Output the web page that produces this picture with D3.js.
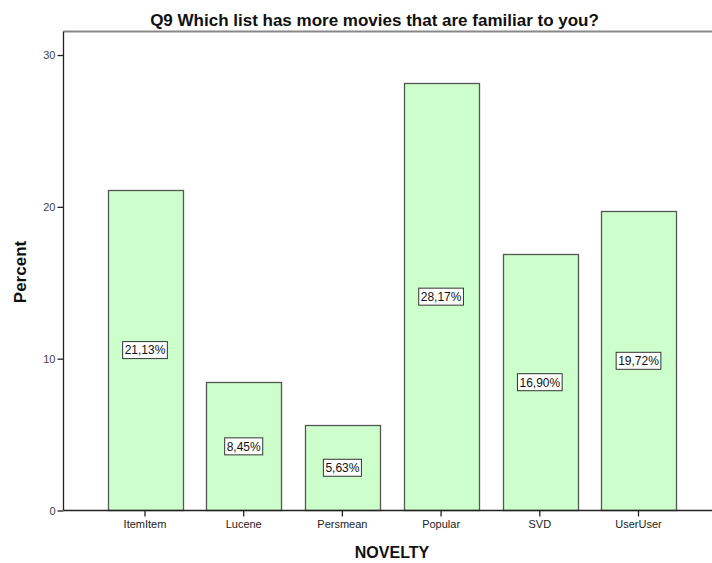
<!DOCTYPE html>
<html><head><meta charset="utf-8">
<script src="https://cdn.jsdelivr.net/npm/d3@7"></script>
<style>body{margin:0;background:#fff}svg{display:block;font-family:Arial,"Liberation Sans",sans-serif}</style>
</head><body><svg id="c" width="712" height="563"></svg>
<script>
const categories = ["ItemItem","Lucene","Persmean","Popular","SVD","UserUser"];
const values = [21.13, 8.45, 5.63, 28.17, 16.90, 19.72];
const labels = ["21,13%","8,45%","5,63%","28,17%","16,90%","19,72%"];
const yTicks = [0,10,20,30];
const title = "Q9 Which list has more movies that are familiar to you?";
const xTitle = "NOVELTY";
const yTitle = "Percent";

(function(){
const svg = d3.select("#c");
const pLeft = 63.5, pTop = 31.5, pBottom = 510.5;
const y = d3.scaleLinear().domain([0, 31.55]).range([pBottom, pTop]);
const x = d3.scaleBand().domain(categories).range([95.65, 95.65 + 6*98.7]).paddingInner(0.245).paddingOuter(0.1225);

// frame
svg.append("line").attr("x1", pLeft).attr("x2", 712).attr("y1", pTop).attr("y2", pTop).attr("stroke", "#888").attr("stroke-width", 2);

// bars
svg.selectAll("rect.bar").data(values).join("rect").attr("class","bar")
  .attr("x", (d,i)=>Math.round(x(categories[i]))+0.5).attr("width", Math.round(x.bandwidth()))
  .attr("y", d=>Math.round(y(d))+0.5).attr("height", d=>pBottom - Math.round(y(d))-0.5)
  .attr("fill", "#ccffcc").attr("stroke", "#555").attr("stroke-width", 1.3);

// axes
const ya = svg.append("g").attr("transform", `translate(${pLeft},0)`)
  .call(d3.axisLeft(y).tickValues(yTicks).tickSize(6).tickPadding(2));
ya.select(".domain").attr("stroke", "#222").attr("stroke-width", 1.3).attr("d", `M0,${pTop}V${pBottom}`);
ya.selectAll(".tick line").attr("stroke", "#222").attr("stroke-width", 1.3);
ya.selectAll(".tick text").attr("font-size", 11).attr("fill", "#444").attr("font-family","Arial, Liberation Sans, sans-serif");

const xa = svg.append("g").attr("transform", `translate(0,${pBottom})`)
  .call(d3.axisBottom(x).tickSize(6).tickPadding(4));
xa.select(".domain").attr("stroke", "#222").attr("stroke-width", 1.3).attr("d", `M${pLeft},0H712`);
xa.selectAll(".tick line").attr("stroke", "#222").attr("stroke-width", 1.3);
xa.selectAll(".tick text").attr("font-size", 11).attr("fill", "#222").attr("font-family","Arial, Liberation Sans, sans-serif");

// value labels
const lg = svg.selectAll("g.lab").data(values).join("g").attr("class","lab")
  .attr("transform", (d,i)=>`translate(${x(categories[i]) + x.bandwidth()/2},${y(d/2)})`);
lg.each(function(d,i){
  const g = d3.select(this);
  const t = g.append("text").text(labels[i]).attr("text-anchor","middle").attr("dy","0.36em")
    .attr("font-size", 12).attr("fill","#111");
  const w = t.node().getComputedTextLength() + 4;
  g.insert("rect","text").attr("x", -w/2).attr("y", -8.5).attr("width", w).attr("height", 17)
    .attr("fill","#fff").attr("stroke","#333").attr("stroke-width",1);
});

// titles
svg.append("text").attr("x", 374.5).attr("y", 26).attr("text-anchor","middle")
  .attr("font-size", 17).attr("font-weight","bold").attr("fill","#111").text(title);
svg.append("text").attr("x", 392).attr("y", 558).attr("text-anchor","middle")
  .attr("font-size", 16).attr("font-weight","bold").attr("fill","#111").text(xTitle);
svg.append("text").attr("transform","translate(26,272) rotate(-90)").attr("text-anchor","middle")
  .attr("font-size", 17).attr("font-weight","bold").attr("fill","#111").text(yTitle);
})();
</script></body></html>
